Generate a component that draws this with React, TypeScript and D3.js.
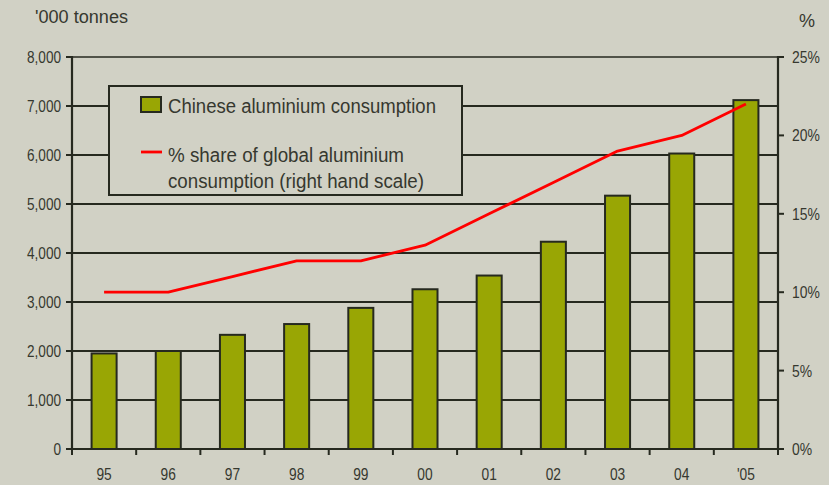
import React from "react";
import * as d3 from "d3";

// Years on the x axis
const years = ["95", "96", "97", "98", "99", "00", "01", "02", "03", "04", "'05"];
// Chinese aluminium consumption, '000 tonnes
const consumption = [1950, 2000, 2330, 2550, 2880, 3260, 3540, 4230, 5170, 6030, 7120];
// China's % share of global aluminium consumption
const share = [10, 10, 11, 12, 12, 13, 15, 17, 19, 20, 22];
// Axis ticks
const leftTicks = [0, 1000, 2000, 3000, 4000, 5000, 6000, 7000, 8000];
const rightTicks = [0, 5, 10, 15, 20, 25];

const W = 829;
const H = 485;
const BG = "#d1d1c5";
const INK = "#26291f";
const TEXT = "#36382f";
const BAR = "#99a604";
const FONT = "'Liberation Sans', Arial, sans-serif";

export default function App() {
  const left = 72;
  const right = 778;
  const top = 57;
  const bottom = 449;

  const x = d3.scaleBand<string>().domain(years).range([left, right]).padding(0);
  const yL = d3.scaleLinear().domain([0, 8000]).range([bottom, top]);
  const yR = d3.scaleLinear().domain([0, 25]).range([bottom, top]);
  const bw = x.bandwidth() * 0.39;
  const cx = (d: string) => (x(d) as number) + x.bandwidth() / 2;

  const line = d3
    .line<number>()
    .x((_, i) => cx(years[i]))
    .y((v) => yR(v));

  const boundaries = years.map((d) => x(d) as number).concat([right]);

  return (
    <svg
      width={W}
      height={H}
      style={{ position: "fixed", left: 0, top: 0, display: "block" }}
      fontFamily={FONT}
    >
      <rect x={0} y={0} width={W} height={H} fill={BG} />

      {/* gridlines */}
      {leftTicks.slice(1).map((t) => (
        <line
          key={t}
          x1={left}
          x2={right}
          y1={yL(t)}
          y2={yL(t)}
          stroke={INK}
          strokeWidth={t === 8000 ? 1.3 : 2}
        />
      ))}

      {/* bars */}
      {consumption.map((v, i) => (
        <rect
          key={years[i]}
          x={cx(years[i]) - bw / 2}
          y={yL(v)}
          width={bw}
          height={yL(0) - yL(v)}
          fill={BAR}
          stroke={INK}
          strokeWidth={2}
        />
      ))}

      {/* axes */}
      <line x1={left} x2={left} y1={top - 1} y2={bottom + 1} stroke={INK} strokeWidth={2.2} />
      <line x1={right} x2={right} y1={top - 1} y2={bottom + 1} stroke={INK} strokeWidth={2.2} />
      <line x1={left - 1} x2={right + 1} y1={bottom} y2={bottom} stroke={INK} strokeWidth={2.2} />

      {leftTicks.map((t) => (
        <g key={t}>
          <line x1={left - 6} x2={left} y1={yL(t)} y2={yL(t)} stroke={INK} strokeWidth={2} />
          <g transform={`translate(${left - 11},${yL(t) + 6}) scale(0.8,1)`}>
            <text textAnchor="end" fontSize={17} fill={TEXT}>
              {d3.format(",")(t)}
            </text>
          </g>
        </g>
      ))}

      {rightTicks.map((t) => (
        <g key={t}>
          <line x1={right} x2={right + 6} y1={yR(t)} y2={yR(t)} stroke={INK} strokeWidth={2} />
          <g transform={`translate(${right + 14},${yR(t) + 6}) scale(0.82,1)`}>
            <text textAnchor="start" fontSize={17} fill={TEXT}>
              {t + "%"}
            </text>
          </g>
        </g>
      ))}

      {boundaries.map((b, i) => (
        <line key={i} x1={b} x2={b} y1={bottom} y2={bottom + 6} stroke={INK} strokeWidth={2} />
      ))}

      {years.map((d) => (
        <g key={d} transform={`translate(${cx(d)},480) scale(0.86,1)`}>
          <text textAnchor="middle" fontSize={16} fill={TEXT}>
            {d}
          </text>
        </g>
      ))}

      {/* share line */}
      <path d={line(share) as string} fill="none" stroke="#ff0000" strokeWidth={2.8} strokeLinejoin="round" />

      {/* axis titles */}
      <text x={35} y={23} fontSize={18} fill={TEXT} textLength={93} lengthAdjust="spacingAndGlyphs">
        '000 tonnes
      </text>
      <text x={807} y={27} fontSize={18} fill={TEXT} textAnchor="middle">
        %
      </text>

      {/* legend */}
      <rect x={109} y={86} width={353} height={109} fill={BG} stroke={INK} strokeWidth={2} />
      <rect x={141} y={97} width={20} height={15} fill={BAR} stroke={INK} strokeWidth={2} />
      <text x={168} y={113} fontSize={20} fill={TEXT} textLength={268} lengthAdjust="spacingAndGlyphs">
        Chinese aluminium consumption
      </text>
      <line x1={141} x2={162} y1={152} y2={152} stroke="#ff0000" strokeWidth={2.8} />
      <text x={168} y={162} fontSize={20} fill={TEXT} textLength={236} lengthAdjust="spacingAndGlyphs">
        % share of global aluminium
      </text>
      <text x={168} y={188} fontSize={20} fill={TEXT} textLength={256} lengthAdjust="spacingAndGlyphs">
        consumption (right hand scale)
      </text>
    </svg>
  );
}
